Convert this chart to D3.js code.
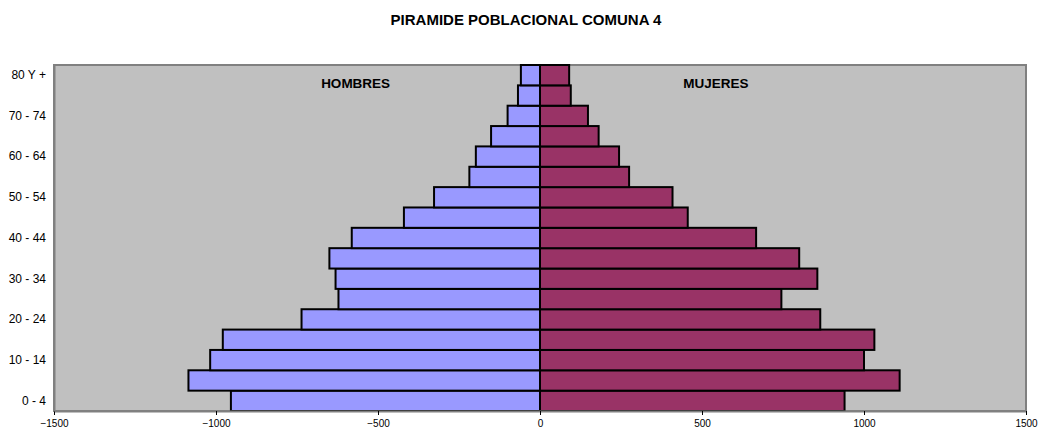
<!DOCTYPE html>
<html>
<head>
<meta charset="utf-8">
<script src="https://cdn.jsdelivr.net/npm/d3@7"></script>
<style>
  body { margin: 0; background: #fff; }
  svg { display: block; font-family: 'Liberation Sans', Arial, sans-serif; }
</style>
</head>
<body>
<svg id="chart" width="1039" height="429"></svg>
<script>
const ageGroups = ['0 - 4', '5 - 9', '10 - 14', '15 - 19', '20 - 24', '25 - 29', '30 - 34',
  '35 - 39', '40 - 44', '45 - 49', '50 - 54', '55 - 59', '60 - 64', '65 - 69',
  '70 - 74', '75 - 79', '80 Y +']
const hombres = [-954, -1085, -1018, -979, -736, -622, -631, -650, -581, -420, -327, -218, -198, -151, -100, -68, -59]
const mujeres = [940, 1110, 1000, 1032, 865, 745, 856, 800, 667, 456, 409, 275, 244, 181, 148, 95, 90]
const xTicks = [-1500, -1000, -500, 0, 500, 1000, 1500]
const yLabels = ['0 - 4', '10 - 14', '20 - 24', '30 - 34', '40 - 44', '50 - 54', '60 - 64', '70 - 74', '80 Y +']

const marginLeft = 54
const marginRight = 13
const marginTop = 65
const marginBottom = 18

const svg = d3.select('#chart')
const W = +svg.attr('width')
const H = +svg.attr('height')
const width = W - marginLeft - marginRight
const height = H - marginTop - marginBottom

const x = d3.scaleLinear().domain([-1500, 1500]).range([0, width])
const y = d3.scaleBand().domain(ageGroups).range([height, 0]).padding(0)

svg.append('text')
  .attr('x', 526)
  .attr('y', 25)
  .attr('text-anchor', 'middle')
  .attr('font-size', 15)
  .attr('font-weight', 'bold')
  .text('PIRAMIDE POBLACIONAL COMUNA 4')

const g = svg.append('g').attr('transform', `translate(${marginLeft} ${marginTop})`)

g.append('rect')
  .attr('width', width)
  .attr('height', height)
  .attr('fill', '#c0c0c0')
  .attr('stroke', '#808080')
  .attr('stroke-width', 2)

const drawBars = (vals, fill) => {
  g.append('g')
    .selectAll('rect')
    .data(vals)
    .join('rect')
    .attr('x', (d) => x(Math.min(0, d)))
    .attr('y', (d, i) => y(ageGroups[i]))
    .attr('width', (d) => Math.abs(x(d) - x(0)))
    .attr('height', y.bandwidth())
    .attr('fill', fill)
    .attr('stroke', '#000')
    .attr('stroke-width', 2)
}
drawBars(hombres, '#9999ff')
drawBars(mujeres, '#993366')

// series labels
g.append('text')
  .attr('x', x(-569))
  .attr('y', 23)
  .attr('text-anchor', 'middle')
  .attr('font-size', 13.5)
  .attr('font-weight', 'bold')
  .text('HOMBRES')
g.append('text')
  .attr('x', x(543))
  .attr('y', 23)
  .attr('text-anchor', 'middle')
  .attr('font-size', 13.5)
  .attr('font-weight', 'bold')
  .text('MUJERES')

// x axis
const xAxis = g.append('g')
  .attr('transform', `translate(0 ${height})`)
  .call(d3.axisBottom(x).tickValues(xTicks).tickSize(4).tickSizeOuter(0).tickFormat(d3.format('d')))
xAxis.select('.domain').attr('stroke', '#808080').attr('stroke-width', 2)
xAxis.selectAll('.tick line').attr('stroke', '#000')
xAxis.selectAll('.tick text').attr('font-size', 10).attr('font-family', null).attr('fill', '#000').attr('dy', '0.9em')

// y axis
const yAxis = g.append('g')
  .call(d3.axisLeft(y).tickValues(yLabels).tickSize(0).tickPadding(8))
yAxis.select('.domain').attr('stroke', '#808080').attr('stroke-width', 2)
yAxis.selectAll('.tick text').attr('font-size', 12).attr('font-family', null).attr('fill', '#000')
</script>
</body>
</html>
